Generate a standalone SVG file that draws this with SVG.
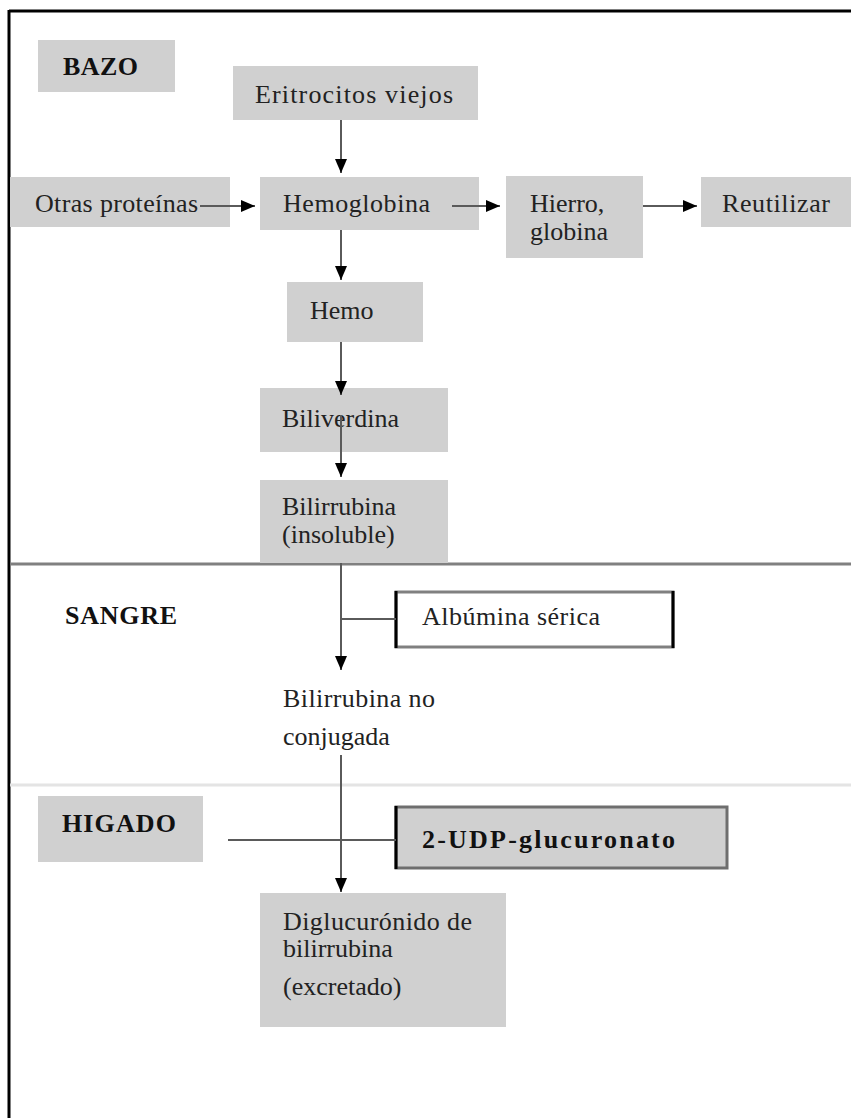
<svg xmlns="http://www.w3.org/2000/svg" width="851" height="1118" viewBox="0 0 851 1118">
  <style>
    .box { fill: #d0d0d0; }
    .t { font-family: "Liberation Serif", "Times New Roman", serif; font-size: 26px; fill: #222; }
    .b { font-weight: bold; fill: #111; }
    .c { stroke: #5a5a5a; stroke-width: 2; fill: none; }
  </style>
  <defs>
    <marker id="ah" viewBox="0 0 14 12" refX="14" refY="6" markerWidth="14" markerHeight="12" markerUnits="userSpaceOnUse" orient="auto">
      <path d="M0,0 L14,6 L0,12 z" fill="#000"/>
    </marker>
  </defs>
  <rect x="0" y="0" width="851" height="1118" fill="#fff"/>
  <!-- frame -->
  <line x1="9" y1="11" x2="851" y2="11" stroke="#000" stroke-width="3"/>
  <line x1="9" y1="10" x2="9" y2="1118" stroke="#000" stroke-width="3"/>
  <!-- section separators -->
  <line x1="10" y1="564" x2="851" y2="564" stroke="#808080" stroke-width="3"/>
  <line x1="10" y1="785" x2="851" y2="785" stroke="#e4e4e4" stroke-width="3"/>

  <g id="bazo">
    <rect class="box" x="38" y="40" width="137" height="52"/>
    <text class="t b" x="63" y="75" textLength="75">BAZO</text>
  </g>
  <g id="eritrocitos">
    <rect class="box" x="233" y="66" width="245" height="54"/>
    <text class="t" x="255" y="103" textLength="198">Eritrocitos viejos</text>
  </g>
  <g id="otras">
    <rect class="box" x="10" y="177" width="220" height="50"/>
    <text class="t" x="35" y="212" textLength="163">Otras proteínas</text>
  </g>
  <g id="hemoglobina">
    <rect class="box" x="260" y="177" width="219" height="53"/>
    <text class="t" x="283" y="212" textLength="147">Hemoglobina</text>
  </g>
  <g id="hierro">
    <rect class="box" x="506" y="176" width="137" height="82"/>
    <text class="t" x="530" y="212">Hierro,</text>
    <text class="t" x="530" y="240">globina</text>
  </g>
  <g id="reutilizar">
    <rect class="box" x="701" y="177" width="150" height="50"/>
    <text class="t" x="722" y="212" textLength="108">Reutilizar</text>
  </g>
  <g id="hemo">
    <rect class="box" x="287" y="282" width="136" height="60"/>
    <text class="t" x="310" y="319">Hemo</text>
  </g>
  <g id="biliverdina">
    <rect class="box" x="260" y="388" width="188" height="64"/>
    <text class="t" x="282" y="427">Biliverdina</text>
  </g>
  <g id="bilirrubina">
    <rect class="box" x="260" y="480" width="188" height="83"/>
    <text class="t" x="282" y="515">Bilirrubina</text>
    <text class="t" x="282" y="543">(insoluble)</text>
  </g>
  <g id="sangre">
    <text class="t b" x="65" y="624" textLength="112">SANGRE</text>
  </g>
  <g id="albumina">
    <rect x="396" y="592" width="277" height="55" fill="#fff" stroke="#808080" stroke-width="3"/>
    <line x1="396" y1="591" x2="396" y2="648" stroke="#000" stroke-width="3"/>
    <line x1="673" y1="591" x2="673" y2="648" stroke="#000" stroke-width="3"/>
    <text class="t" x="422" y="625" textLength="178">Albúmina sérica</text>
  </g>
  <g id="bilirrubina-no-conjugada">
    <text class="t" x="283" y="707" textLength="152">Bilirrubina no</text>
    <text class="t" x="283" y="745">conjugada</text>
  </g>
  <g id="higado">
    <rect class="box" x="38" y="796" width="165" height="66"/>
    <text class="t b" x="62" y="832" textLength="114">HIGADO</text>
  </g>
  <g id="udp">
    <rect class="box" x="396" y="807" width="331" height="61" stroke="#6e6e6e" stroke-width="3"/>
    <line x1="396" y1="806" x2="396" y2="869" stroke="#000" stroke-width="3"/>
    <text class="t b" x="422" y="848" textLength="253">2-UDP-glucuronato</text>
  </g>
  <g id="diglucuronido">
    <rect class="box" x="260" y="893" width="246" height="134"/>
    <text class="t" x="283" y="930" textLength="189">Diglucurónido de</text>
    <text class="t" x="283" y="957">bilirrubina</text>
    <text class="t" x="283" y="995">(excretado)</text>
  </g>

  <g id="connectors">
    <path class="c" d="M341,120 V173" marker-end="url(#ah)"/>
    <path class="c" d="M200,206 H255" marker-end="url(#ah)"/>
    <path class="c" d="M452,206 H500" marker-end="url(#ah)"/>
    <path class="c" d="M643,206 H697" marker-end="url(#ah)"/>
    <path class="c" d="M341,230 V280" marker-end="url(#ah)"/>
    <path class="c" d="M341,342 V395" marker-end="url(#ah)"/>
    <path class="c" d="M341,415 V477" marker-end="url(#ah)"/>
    <path class="c" d="M341,563 V670" marker-end="url(#ah)"/>
    <path class="c" d="M341,619 H396"/>
    <path class="c" d="M341,755 V892" marker-end="url(#ah)"/>
    <path class="c" d="M228,840 H396"/>
  </g>
</svg>
